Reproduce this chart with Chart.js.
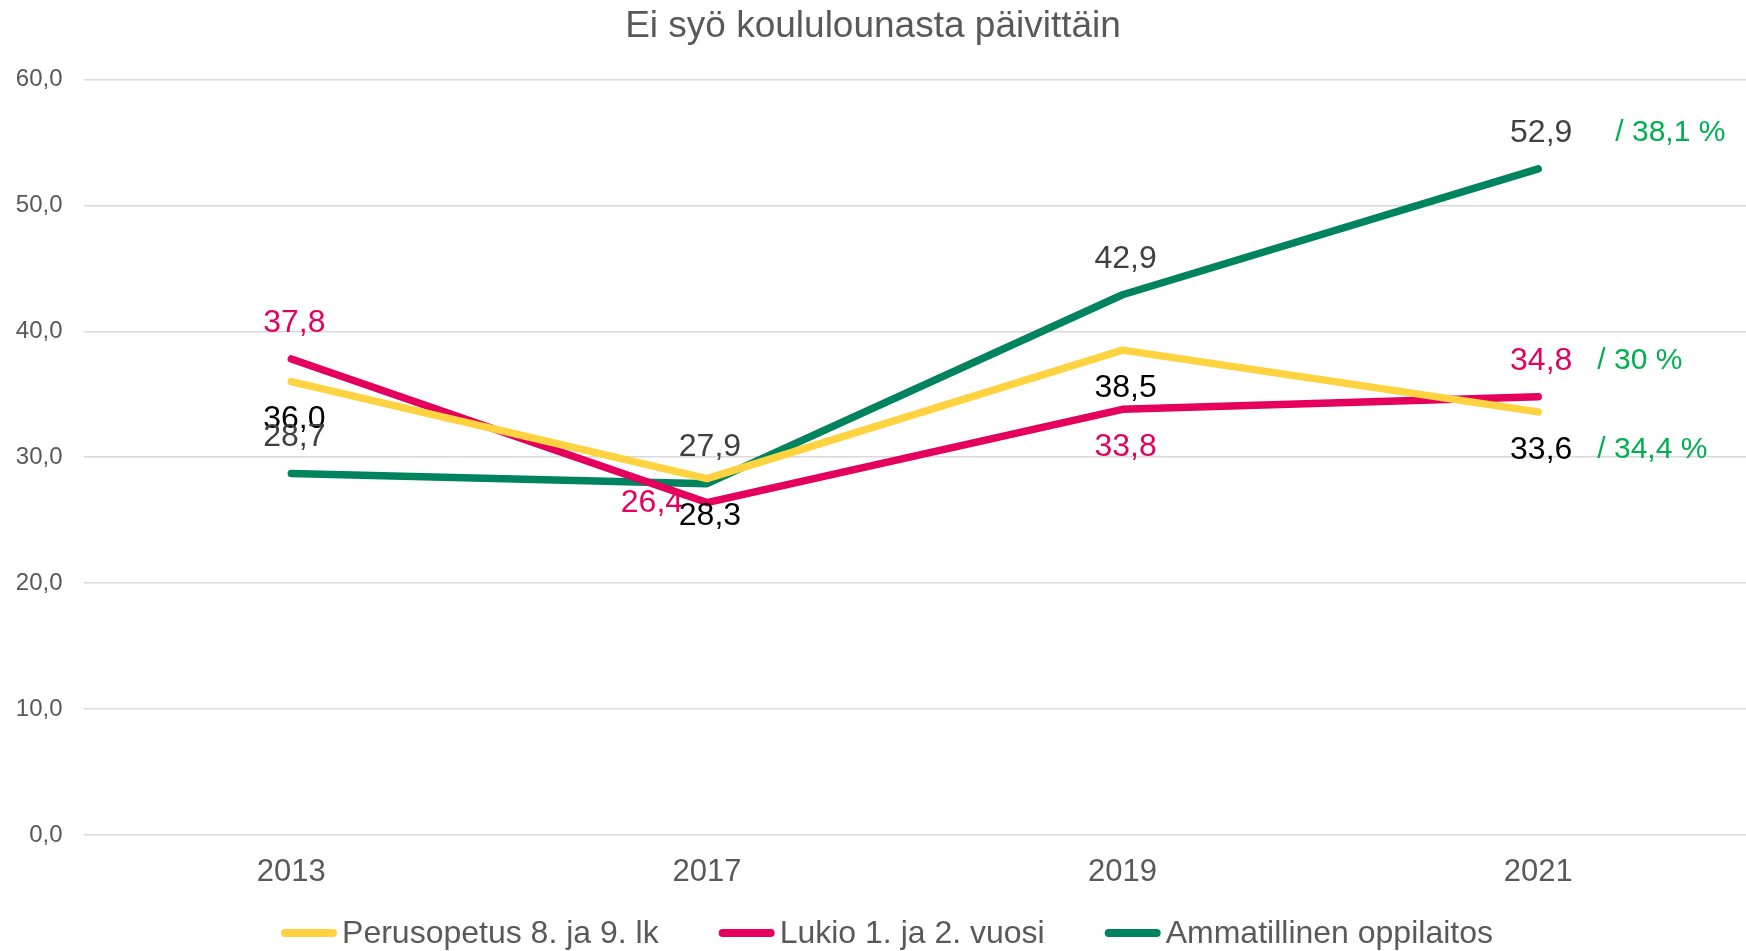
<!DOCTYPE html>
<html>
<head>
<meta charset="utf-8">
<script src="https://cdn.jsdelivr.net/npm/chart.js@4"></script>
<style>
  body { margin: 0; background: #fff; }
  #wrap { width: 1746px; height: 951px; }
</style>
</head>
<body>
<div id="wrap"><canvas id="canv"></canvas></div>
<script>
const years = ['2013', '2017', '2019', '2021'];
const perusopetus = [36.0, 28.3, 38.5, 33.6];
const lukio = [37.8, 26.4, 33.8, 34.8];
const ammatillinen = [28.7, 27.9, 42.9, 52.9];
const seriesNames = ['Perusopetus 8. ja 9. lk', 'Lukio 1. ja 2. vuosi', 'Ammatillinen oppilaitos'];
const suffixes = ['/ 34,4 %', '/ 30 %', '/ 38,1 %'];
const yTicks = [0, 10, 20, 30, 40, 50, 60];

const FONT = '"Liberation Sans", Arial, sans-serif';
const colors = ['#FFD23F', '#E5005E', '#00845F'];
const labelColors = ['#000000', '#E5005E', '#404040'];
// where each value label sits relative to its point
const placement = [
  ['below', 'below', 'below', 'below'],
  ['above', 'left', 'below', 'above'],
  ['above', 'above', 'above', 'above']
];
const suffixGap = [25, 25, 43];

const fmt = v => v.toFixed(1).replace('.', ',');

const valueLabels = {
  id: 'valueLabels',
  afterDatasetsDraw(chart) {
    const ctx = chart.ctx;
    ctx.save();
    ctx.textBaseline = 'middle';
    chart.data.datasets.forEach((ds, i) => {
      const meta = chart.getDatasetMeta(i);
      meta.data.forEach((pt, j) => {
        let x = pt.x + 3, y = pt.y;
        const p = placement[i][j];
        if (p === 'above') y -= 36;
        if (p === 'below') y += 38;
        if (p === 'left') { x = pt.x - 55; y += 1; }
        const txt = fmt(ds.data[j]);
        ctx.font = '32px ' + FONT;
        ctx.fillStyle = labelColors[i];
        ctx.textAlign = 'center';
        ctx.fillText(txt, x, y);
        if (j === ds.data.length - 1) {
          const w = ctx.measureText(txt).width;
          ctx.font = '30px ' + FONT;
          ctx.fillStyle = '#00B050';
          ctx.textAlign = 'left';
          ctx.fillText(suffixes[i], x + w / 2 + suffixGap[i], y);
        }
      });
    });
    ctx.restore();
  }
};

const bottomLegend = {
  id: 'bottomLegend',
  afterDraw(chart) {
    const ctx = chart.ctx;
    ctx.save();
    ctx.font = '32px ' + FONT;
    ctx.textBaseline = 'middle';
    const ds = chart.data.datasets;
    const widths = ds.map(d => 56 + 5 + ctx.measureText(d.label).width);
    const total = widths.reduce((a, b) => a + b, 0) + 60 * (ds.length - 1);
    let x = chart.width / 2 + 14 - total / 2;
    const y = 933;
    ds.forEach((d, i) => {
      ctx.strokeStyle = d.borderColor;
      ctx.lineWidth = 8;
      ctx.lineCap = 'round';
      ctx.beginPath();
      ctx.moveTo(x + 4, y);
      ctx.lineTo(x + 52, y);
      ctx.stroke();
      ctx.fillStyle = '#595959';
      ctx.textAlign = 'left';
      ctx.fillText(d.label, x + 61, y + 1);
      x += widths[i] + 60;
    });
    ctx.restore();
  }
};

const seriesData = [perusopetus, lukio, ammatillinen];

new Chart(document.getElementById('canv').getContext('2d'), {
  type: 'line',
  data: {
    labels: years,
    datasets: seriesData.map((d, i) => ({
      label: seriesNames[i],
      data: d,
      borderColor: colors[i],
      backgroundColor: colors[i],
      borderWidth: 7.5,
      borderCapStyle: 'round',
      borderJoinStyle: 'round',
      pointRadius: 0,
      tension: 0
    }))
  },
  options: {
    responsive: true,
    maintainAspectRatio: false,
    animation: false,
    layout: { padding: { left: 0, right: 0, top: 0, bottom: 61 } },
    plugins: {
      legend: { display: false },
      tooltip: { enabled: false },
      title: {
        display: true,
        text: 'Ei syö koululounasta päivittäin',
        color: '#595959',
        font: { family: FONT, size: 37, weight: 'normal' },
        padding: { top: 5, bottom: 30 }
      }
    },
    scales: {
      x: {
        offset: true,
        grid: { display: false },
        border: { display: false },
        ticks: { color: '#595959', font: { family: FONT, size: 31 }, padding: 11 },
        afterFit: axis => { axis.height = 55; }
      },
      y: {
        min: 0,
        max: 60,
        afterBuildTicks: axis => { axis.ticks = yTicks.map(v => ({ value: v })); },
        grid: { color: '#d9d9d9', lineWidth: 1.5, drawTicks: false },
        border: { display: false },
        ticks: { color: '#595959', font: { family: FONT, size: 24 }, padding: 21, callback: v => fmt(v) },
        afterFit: axis => { axis.width = 83.5; }
      }
    }
  },
  plugins: [valueLabels, bottomLegend]
});
</script>
</body>
</html>
